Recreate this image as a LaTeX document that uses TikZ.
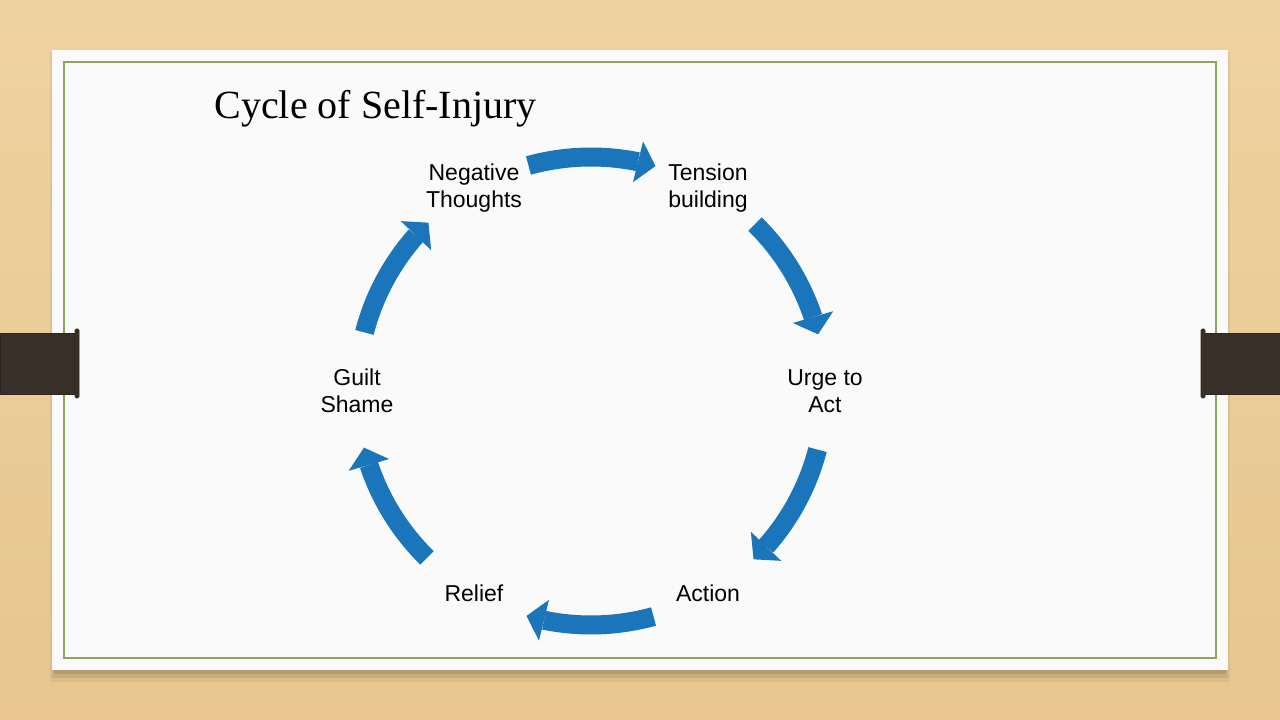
\documentclass[tikz,border=0pt]{standalone}
\usepackage{fontspec}
\newfontfamily\stagefont{Liberation Sans}
\newfontfamily\titlefont{Liberation Serif}
\usetikzlibrary{arrows.meta, bending, calc}

\definecolor{arrowblue}{RGB}{27,117,187}
\definecolor{woodtan}{RGB}{232,198,142}
\definecolor{woodlight}{RGB}{238,210,160}
\definecolor{frameolive}{RGB}{140,166,94}
\definecolor{clipbrown}{RGB}{58,48,42}
\definecolor{slidewhite}{RGB}{250,250,250}

\begin{document}
\begin{tikzpicture}[
    x=1pt, y=1pt,
    stage/.style={align=center, inner sep=0pt, font=\stagefont\fontsize{23}{27}\selectfont},
    cyclearrow/.style={line width=19pt, arrowblue, -{Triangle[length=18pt, width=42pt, line width=0pt]}},
    binderclip/.style={fill=clipbrown, draw=clipbrown!80!black, line width=0.8pt}
]
\useasboundingbox (0,0) rectangle (1280,720);

% wooden desk and slide
\shade[top color=woodlight, bottom color=woodtan] (0,0) rectangle (1280,720);
\fill[black, opacity=0.05] (50,38) rectangle (1230,668);
\fill[black, opacity=0.08] (52,42) rectangle (1228,668);
\fill[black, opacity=0.10] (54,46) rectangle (1226,668);
\fill[slidewhite] (52,50) rectangle (1228,670);
\draw[frameolive, line width=1.4pt] (64,62) rectangle (1216,658);

% clips on both sides
\filldraw[binderclip] (0,326) rectangle (78,387);
\filldraw[binderclip, rounded corners=1.5pt] (75,322) rectangle (79,391);
\filldraw[binderclip] (1202,326) rectangle (1280,387);
\filldraw[binderclip, rounded corners=1.5pt] (1201,322) rectangle (1205,391);

\node (title) [anchor=base west, font=\titlefont\fontsize{40}{44}\selectfont] at (211,601) {Cycle of Self-Injury};

% the six stages
\coordinate (c) at (591,329);
\node (negative) [stage] at ([shift={(120:234)}]c) {Negative\\Thoughts};
\node (tension)  [stage] at ([shift={(60:234)}]c)  {Tension\\building};
\node (urge)     [stage] at ([shift={(0:234)}]c)   {Urge to\\Act};
\node (action)   [stage] at ([shift={(-60:234)}]c) {Action};
\node (relief)   [stage] at ([shift={(-120:234)}]c) {Relief};
\node (guilt)    [stage] at ([shift={(180:234)}]c) {Guilt\\Shame};

% arrows along the circle, from each stage towards the next
\draw [cyclearrow] ($(c)!1!-14.5:(negative.center)$) arc[start angle=105.5, delta angle=-31.5, radius=234];
\draw [cyclearrow] ($(c)!1!-14.5:(tension.center)$)  arc[start angle=45.5,  delta angle=-31.5, radius=234];
\draw [cyclearrow] ($(c)!1!-14.5:(urge.center)$)     arc[start angle=-14.5, delta angle=-31.5, radius=234];
\draw [cyclearrow] ($(c)!1!-14.5:(action.center)$)   arc[start angle=-74.5, delta angle=-31.5, radius=234];
\draw [cyclearrow] ($(c)!1!-14.5:(relief.center)$)   arc[start angle=-134.5, delta angle=-31.5, radius=234];
\draw [cyclearrow] ($(c)!1!-14.5:(guilt.center)$)    arc[start angle=165.5, delta angle=-31.5, radius=234];

\end{tikzpicture}
\end{document}
